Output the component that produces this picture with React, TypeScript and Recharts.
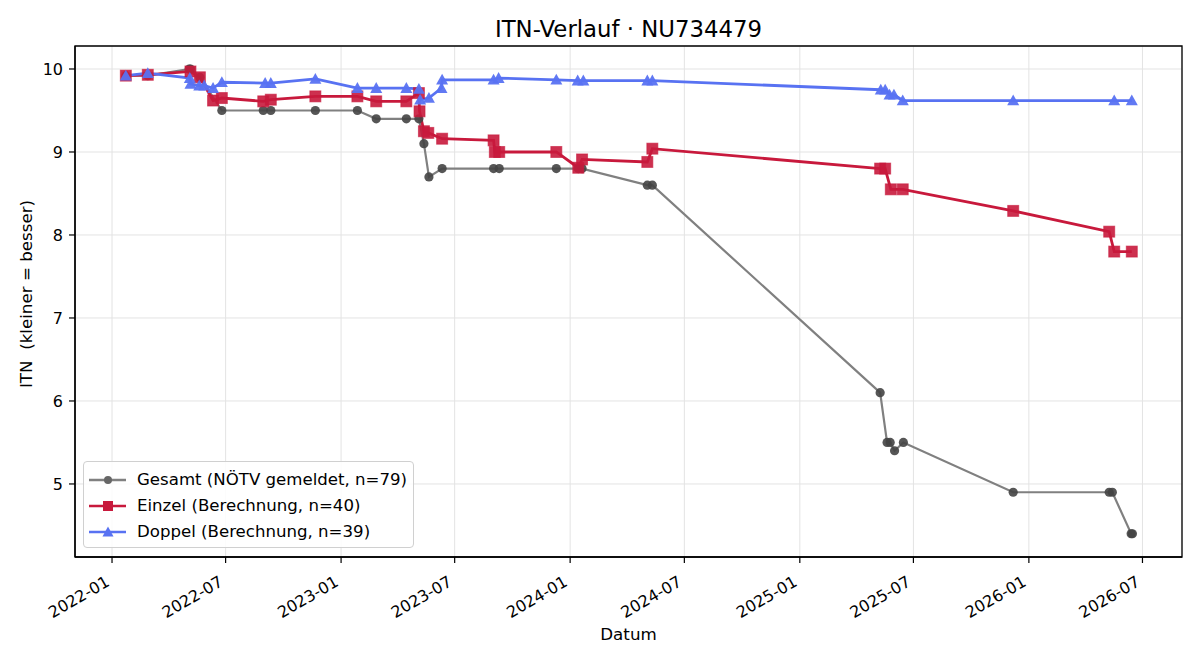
import { LineChart, Line, XAxis, YAxis, CartesianGrid, ReferenceArea } from 'recharts';

const FONT = '"DejaVu Sans", sans-serif';

// Gesamt (NÖTV gemeldet)
const gesamtDates = [
  '2022-01-23', '2022-02-27', '2022-05-04', '2022-05-06', '2022-05-21', '2022-06-25', '2022-08-30',
  '2022-09-11', '2022-11-21', '2023-01-27', '2023-02-26', '2023-04-15', '2023-05-05', '2023-05-13',
  '2023-05-21', '2023-06-11', '2023-09-01', '2023-09-10', '2023-12-10', '2024-01-14', '2024-01-20',
  '2024-05-03', '2024-05-11', '2025-05-09', '2025-05-20', '2025-05-25', '2025-06-01', '2025-06-15',
  '2025-12-07', '2026-05-09', '2026-05-14', '2026-06-13', '2026-06-15',
];
const gesamtValues = [
  9.92, 9.92, 10.0, 10.0, 9.9, 9.5, 9.5,
  9.5, 9.5, 9.5, 9.4, 9.4, 9.4, 9.1,
  8.7, 8.8, 8.8, 8.8, 8.8, 8.8, 8.8,
  8.6, 8.6, 6.1, 5.5, 5.5, 5.4, 5.5,
  4.9, 4.9, 4.9, 4.4, 4.4,
];

// Einzel (Berechnung)
const einzelDates = [
  '2022-01-23', '2022-02-27', '2022-05-06', '2022-05-21', '2022-06-11', '2022-06-25', '2022-08-30',
  '2022-09-11', '2022-11-21', '2023-01-27', '2023-02-26', '2023-04-15', '2023-05-05', '2023-05-06',
  '2023-05-13', '2023-05-20', '2023-06-11', '2023-09-01', '2023-09-03', '2023-09-10', '2023-12-10',
  '2024-01-14', '2024-01-20', '2024-05-03', '2024-05-11', '2025-05-09', '2025-05-17', '2025-05-26',
  '2025-06-14', '2025-12-07', '2026-05-09', '2026-05-17', '2026-06-14',
];
const einzelValues = [
  9.92, 9.93, 9.97, 9.9, 9.62, 9.65, 9.61,
  9.63, 9.67, 9.67, 9.61, 9.61, 9.71, 9.49,
  9.25, 9.23, 9.16, 9.14, 9.0, 9.0, 9.0,
  8.81, 8.91, 8.88, 9.04, 8.8, 8.8, 8.55,
  8.55, 8.29, 8.04, 7.8, 7.8,
];

// Doppel (Berechnung)
const doppelDates = [
  '2022-01-23', '2022-02-27', '2022-05-05', '2022-05-06', '2022-05-20', '2022-05-28', '2022-06-11',
  '2022-06-25', '2022-09-02', '2022-09-11', '2022-11-21', '2023-01-27', '2023-02-26', '2023-04-15',
  '2023-05-05', '2023-05-07', '2023-05-21', '2023-06-10', '2023-06-11', '2023-09-01', '2023-09-09',
  '2023-12-10', '2024-01-13', '2024-01-22', '2024-05-03', '2024-05-11', '2025-05-10', '2025-05-17',
  '2025-05-24', '2025-05-31', '2025-06-14', '2025-12-07', '2026-05-17', '2026-06-14',
];
const doppelValues = [
  9.92, 9.95, 9.89, 9.82, 9.8, 9.8, 9.77,
  9.84, 9.83, 9.83, 9.88, 9.77, 9.77, 9.77,
  9.76, 9.63, 9.65, 9.77, 9.87, 9.87, 9.89,
  9.87, 9.86, 9.86, 9.86, 9.86, 9.75, 9.75,
  9.69, 9.69, 9.62, 9.62, 9.62, 9.62,
];

const xTickLabels = [
  '2022-01', '2022-07', '2023-01', '2023-07', '2024-01',
  '2024-07', '2025-01', '2025-07', '2026-01', '2026-07',
];
const yTicks = [5, 6, 7, 8, 9, 10];

const toTime = (d: string) => new Date(d + 'T00:00:00Z').getTime();
const toSeries = (dates: string[], values: number[]) =>
  dates.map((d, i) => ({ t: toTime(d), v: values[i] }));

const gesamt = toSeries(gesamtDates, gesamtValues);
const einzel = toSeries(einzelDates, einzelValues);
const doppel = toSeries(doppelDates, doppelValues);

const xTicks = xTickLabels.map((l) => toTime(l + '-01'));
const xMin = toTime('2021-11-03');
const xMax = toTime('2026-09-02');
const yMin = 4.12;
const yMax = 10.277;

const GRAY_LINE = '#808080';
const GRAY_DOT = '#444444';
const RED = '#c8193c';
const BLUE = '#5872f2';

const circleDot = (props: any) => {
  const { cx, cy, index } = props;
  if (cx == null || cy == null) return <g key={'c' + index} />;
  return <circle key={'c' + index} cx={cx} cy={cy} r={4.6} fill={GRAY_DOT} fillOpacity={0.9} />;
};

const squareDot = (props: any) => {
  const { cx, cy, index } = props;
  if (cx == null || cy == null) return <g key={'s' + index} />;
  return (
    <rect key={'s' + index} x={cx - 5.5} y={cy - 5.5} width={11} height={11}
      fill={RED} fillOpacity={0.9} stroke={RED} strokeOpacity={0.6} strokeWidth={1} />
  );
};

const triangleDot = (props: any) => {
  const { cx, cy, index } = props;
  if (cx == null || cy == null) return <g key={'tr' + index} />;
  const s = 6;
  return (
    <polygon key={'tr' + index}
      points={`${cx},${cy - s} ${cx - s},${cy + s * 0.8} ${cx + s},${cy + s * 0.8}`}
      fill={BLUE} fillOpacity={0.95} />
  );
};

const DateTick = (props: any) => {
  const { x, y, payload } = props;
  const i = xTicks.indexOf(payload.value);
  return (
    <g transform={`translate(${x - 1.5},${y + 20})`}>
      <text x={0} y={0} textAnchor="end" transform="rotate(-30)"
        fontFamily={FONT} fontSize={16} fill="#000">
        {xTickLabels[i]}
      </text>
    </g>
  );
};

const legendRows = [
  { label: 'Gesamt (NÖTV gemeldet, n=79)', color: GRAY_LINE, marker: 'circle' },
  { label: 'Einzel (Berechnung, n=40)', color: RED, marker: 'square' },
  { label: 'Doppel (Berechnung, n=39)', color: BLUE, marker: 'triangle' },
];

function LegendBox() {
  return (
    <div style={{
      position: 'absolute', left: 83, top: 461, width: 329, height: 85,
      border: '1px solid #d0d0d0', borderRadius: 4, background: 'rgba(255,255,255,0.85)',
      fontFamily: FONT, fontSize: 16.6,
    }}>
      {legendRows.map((r, i) => (
        <div key={r.label} style={{
          position: 'absolute', left: 4, top: 7 + i * 26, height: 22,
          display: 'flex', alignItems: 'center',
        }}>
          <svg width={40} height={22}>
            <line x1={1} y1={11} x2={38} y2={11} stroke={r.color} strokeWidth={2.6} />
            {r.marker === 'circle' && <circle cx={20} cy={11} r={4} fill="#666" />}
            {r.marker === 'square' && <rect x={15} y={6} width={10} height={10} fill={RED} />}
            {r.marker === 'triangle' && <polygon points="20,5.5 14.5,15.5 25.5,15.5" fill={BLUE} />}
          </svg>
          <span style={{ marginLeft: 9, color: '#000', whiteSpace: 'nowrap', lineHeight: '22px' }}>{r.label}</span>
        </div>
      ))}
    </div>
  );
}

export default function App() {
  return (
    <div style={{ position: 'absolute', left: 0, top: 0, width: 1200, height: 660, background: '#fff' }}>
      <LineChart width={1200} height={660} margin={{ top: 46, right: 18, bottom: 0, left: 0 }}>
        <CartesianGrid stroke="#e3e3e3" strokeWidth={1} />
        <XAxis
          type="number"
          dataKey="t"
          domain={[xMin, xMax]}
          ticks={xTicks}
          allowDataOverflow
          height={103}
          tick={<DateTick />}
          tickSize={6}
          tickMargin={2}
          tickLine={{ stroke: '#000', strokeWidth: 1.2 }}
          axisLine={{ stroke: '#000', strokeWidth: 1.3 }}
        />
        <YAxis
          type="number"
          domain={[yMin, yMax]}
          ticks={yTicks}
          allowDataOverflow
          width={75}
          tickSize={6}
          tickMargin={6}
          tickLine={{ stroke: '#000', strokeWidth: 1.2 }}
          axisLine={{ stroke: '#000', strokeWidth: 1.3 }}
          tick={{ fontFamily: FONT, fontSize: 16, fill: '#000' }}
        />
        <ReferenceArea x1={xMin} x2={xMax} y1={yMin} y2={yMax} fill="none" fillOpacity={0} stroke="#000" strokeWidth={1.3} />
        <Line data={gesamt} dataKey="v" type="linear" stroke={GRAY_LINE} strokeWidth={2.2}
          dot={circleDot} activeDot={false} isAnimationActive={false} />
        <Line data={einzel} dataKey="v" type="linear" stroke={RED} strokeWidth={2.8}
          dot={squareDot} activeDot={false} isAnimationActive={false} />
        <Line data={doppel} dataKey="v" type="linear" stroke={BLUE} strokeWidth={2.8}
          dot={triangleDot} activeDot={false} isAnimationActive={false} />
      </LineChart>
      <svg width={1200} height={660} style={{ position: 'absolute', left: 0, top: 0, pointerEvents: 'none' }}>
        <text x={628.5} y={37} textAnchor="middle" fontFamily={FONT} fontSize={22.8} fill="#000">
          ITN-Verlauf · NU734479
        </text>
        <text x={628.5} y={640} textAnchor="middle" fontFamily={FONT} fontSize={16.7} fill="#000">
          Datum
        </text>
        <text x={32} y={294} transform="rotate(-90, 32, 294)" textAnchor="middle"
          fontFamily={FONT} fontSize={16.7} fill="#000" style={{ whiteSpace: 'pre' }}>
          {'ITN  (kleiner = besser)'}
        </text>
      </svg>
      <LegendBox />
    </div>
  );
}
